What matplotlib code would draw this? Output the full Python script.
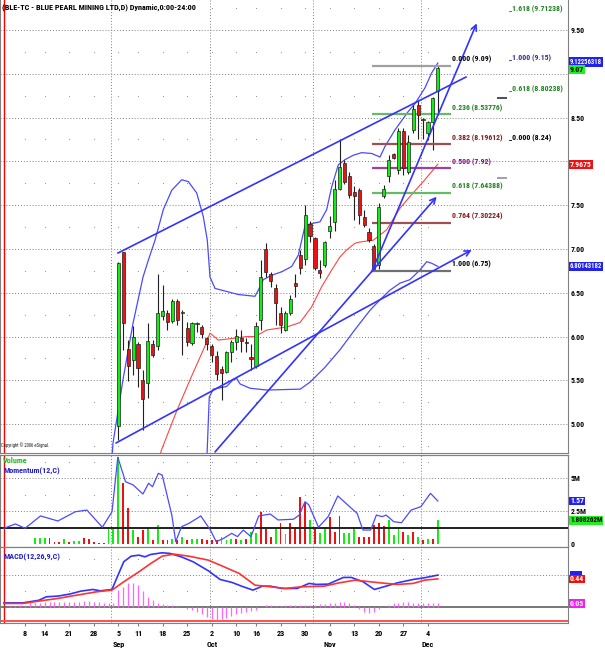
import numpy as np
import pandas as pd
import matplotlib
matplotlib.use('Agg')
import matplotlib.pyplot as plt
import matplotlib.transforms as mtransforms
from matplotlib import font_manager
from matplotlib.patches import Rectangle

# narrowest installed sans family, text size scaled to keep similar widths
installed = {f.name for f in font_manager.fontManager.ttflist}
FAM, FS = 'DejaVu Sans', 4.6
for name, size in [('Liberation Sans Narrow', 6.0), ('Roboto Condensed', 5.6), ('Liberation Sans', 5.2)]:
    if name in installed:
        FAM, FS = name, size
        break
plt.rcParams['font.family'] = [FAM, 'DejaVu Sans']
plt.rcParams['font.size'] = FS

# trading days (TSX), bar index 0 = 2006-08-01
holidays = pd.to_datetime(['2006-08-07', '2006-09-04', '2006-10-09'])
days = pd.bdate_range('2006-08-01', '2006-12-06')
days = days[~days.isin(holidays)]

# daily candles from 2006-09-05 (bar 23) on; earlier prices are below the scale
first_bar = 23
opens = [4.98, 6.96, 5.86, 5.73, 5.92, 5.50, 5.47, 5.92, 5.89, 6.24, 6.27, 6.18, 6.41, 6.27, 6.10, 5.93,
         6.14, 6.11, 5.98, 5.89, 5.78, 5.63, 5.60, 5.82, 5.94, 5.98, 5.93, 5.77, 5.66, 6.19, 7.00, 6.71,
         6.56, 6.27, 6.08, 6.27, 6.61, 6.93, 6.89, 7.28, 7.12, 6.76, 6.82, 7.20, 7.31, 7.69, 7.98, 7.83,
         7.65, 7.67, 7.36, 7.19, 7.03, 6.82, 7.60, 7.83, 8.08, 7.90, 8.35, 7.88, 8.36, 8.64, 8.47, 8.32,
         8.45, 8.80]
highs = [6.85, 6.97, 5.96, 6.12, 5.94, 5.62, 6.15, 5.96, 6.72, 6.59, 6.30, 6.43, 6.43, 6.30, 6.17, 6.17,
         6.17, 6.13, 6.00, 5.92, 5.83, 5.66, 5.84, 5.96, 6.09, 6.07, 5.98, 5.92, 6.17, 6.87, 7.07, 6.74,
         6.60, 6.34, 6.29, 6.47, 6.72, 6.99, 7.50, 7.32, 7.14, 6.88, 7.09, 7.38, 7.79, 8.26, 8.02, 7.88,
         7.72, 7.70, 7.44, 7.24, 7.06, 7.52, 7.73, 8.07, 8.10, 8.38, 8.38, 8.30, 8.64, 8.70, 8.50, 8.46,
         8.74, 9.09]
lows = [4.82, 5.85, 5.49, 5.56, 5.43, 4.93, 5.30, 5.77, 5.85, 6.19, 6.08, 6.16, 6.13, 5.79, 5.89, 5.90,
        6.05, 5.98, 5.85, 5.71, 5.50, 5.28, 5.58, 5.71, 5.85, 5.82, 5.82, 5.62, 5.64, 6.08, 6.68, 6.57,
        6.13, 6.04, 6.06, 6.25, 6.45, 6.72, 6.82, 7.08, 6.76, 6.67, 6.80, 7.13, 7.20, 7.67, 7.74, 7.58,
        7.33, 7.29, 7.25, 7.08, 6.75, 6.77, 7.58, 7.77, 8.03, 7.86, 7.85, 7.86, 8.32, 8.26, 8.26, 8.24,
        8.13, 8.53]
closes = [6.84, 6.16, 5.66, 5.99, 5.64, 5.29, 5.95, 5.79, 6.27, 6.29, 6.17, 6.41, 6.19, 6.28, 5.94, 6.16,
          6.16, 6.03, 5.91, 5.79, 5.57, 5.58, 5.82, 5.94, 6.01, 5.955, 5.925, 5.74, 6.12, 6.68, 6.74, 6.63,
          6.38, 6.13, 6.27, 6.43, 6.58, 6.78, 7.39, 7.15, 6.78, 6.73, 7.08, 7.26, 7.69, 7.94, 7.77, 7.62,
          7.61, 7.39, 7.27, 7.10, 6.77, 7.48, 7.68, 8.02, 8.04, 8.35, 7.92, 8.22, 8.60, 8.53, 8.48, 8.45,
          8.72, 9.07]

# Bollinger(20) bands and middle average as (bar, price)
bb_up_x = [21.5, 21.9, 23.95, 25.98, 28.02, 29.09, 30.46, 32.15, 33.86, 35.89, 37.23, 38.94, 40.28, 41.1,
           41.65, 42.67, 44.03, 47.41, 50.8, 51.48, 52.49, 54.2, 56.24, 58.27, 59.62, 61.0, 62.34, 64.03,
           65.39, 66.41, 67.75, 69.11, 70.8, 72.51, 74.55, 76.24, 77.25, 79.29, 81.99, 83.36, 85.39, 86.75, 88]
bb_up_y = [4.45, 4.78, 5.51, 6.15, 6.68, 6.87, 7.10, 7.45, 7.67, 7.79, 7.77, 7.64, 7.37, 7.10,
           6.68, 6.55, 6.53, 6.48, 6.46, 6.53, 6.65, 6.70, 6.74, 6.80, 6.93, 7.27, 7.29, 7.31,
           7.45, 7.71, 7.96, 8.02, 8.07, 8.10, 8.09, 8.05, 8.17, 8.36, 8.57, 8.66, 8.84, 9.01, 9.1226]
bb_mid_x = [30.5, 31.74, 34.79, 37.84, 40.57, 41.65, 43.34, 46.39, 49.11, 50.8, 53.18, 57.25, 59.96, 62.34,
            64.37, 66.41, 68.1, 69.46, 71.15, 72.17, 74.87, 77.6, 80.3, 82.34, 85.05, 88]
bb_mid_y = [4.45, 4.70, 5.14, 5.54, 5.885, 6.04, 5.96, 5.98, 6.0, 6.0, 6.075, 6.11, 6.16, 6.34,
            6.57, 6.76, 6.91, 6.99, 7.065, 7.08, 7.10, 7.22, 7.465, 7.60, 7.77, 7.9675]
bb_lo_x = [40.8, 41.5, 42.32, 45.0, 46.4, 47.1, 47.75, 49.8, 53.2, 60.0, 62.0, 65.05, 68.1, 71.15,
           74.2, 76.24, 78.27, 80.3, 82.34, 84.37, 85.74, 86.75, 88]
bb_lo_y = [4.30, 5.31, 5.40, 5.43, 5.51, 5.52, 5.46, 5.41, 5.39, 5.40, 5.48, 5.65, 5.85, 6.08,
           6.30, 6.42, 6.53, 6.61, 6.65, 6.76, 6.855, 6.837, 6.8014]

# trend lines (bar, price) -> (bar, price)
channel_top = [(22.93, 6.954), (93.73, 8.963)]
arrow_lines = [[(22.52, 4.785), (94.89, 6.989)],
               [(42.67, 4.683), (87.77, 7.597)],
               [(74.55, 6.741), (95.91, 9.576)]]

# Fibonacci retracement 6.75 -> 9.09
fib_ratio = ['0.000', '0.236', '0.382', '0.500', '0.618', '0.764', '1.000']
fib_price = [9.09, 8.53776, 8.19612, 7.92, 7.64388, 7.30224, 6.75]
fib_line_col = ['#a0a0a0', '#66bb66', '#a05050', '#a040a0', '#66bb66', '#a05050', '#707070']
fib_text_col = ['#000000', '#208020', '#801818', '#801080', '#208020', '#801818', '#000000']
# Fibonacci extension labels
ext_ratio = ['1.618', '1.000', '0.618', '0.000']
ext_price = [9.71238, 9.15, 8.80238, 8.24]
ext_col = ['#208020', '#303090', '#208020', '#000000']

# volume (millions) per bar from bar 0
volume = [0.0, 0.02, 0.02, 0.0, 0.0, 0.0, 0.50, 0.50, 0.50, 0.45, 0.20, 0.20, 0.40, 0.20, 0.28, 0.28,
          0.45, 0.40, 0.20, 0.12, 0.07, 1.21, 1.21, 6.63, 4.62, 2.77, 1.08, 0.58, 1.08, 1.33, 0.33, 1.46,
          0.33, 0.33, 0.38, 0.33, 0.53, 0.33, 0.38, 0.38, 0.38, 0.33, 0.33, 0.33, 0.58, 0.33, 0.38, 0.38,
          0.33, 0.38, 0.96, 0.83, 2.47, 1.14, 0.58, 1.14, 1.59, 0.76, 1.64, 1.29, 3.61, 3.10, 1.84, 1.14,
          0.83, 1.21, 2.04, 0.96, 2.14, 0.83, 0.83, 1.14, 0.53, 0.58, 0.58, 1.46, 1.59, 1.39, 1.84, 0.71,
          1.21, 0.96, 0.71, 0.96, 0.53, 0.33, 0.38, 0.38, 1.808]
vol_up = "rrrrrrgggrrrgrggrrrrrggg" + "rrgrrgrgrrgrgrggrrrrgggrgrggrrrgrgrrrrgrggrrrgggrrrrrrgggrgrgrgrggg"

# Momentum(12,C) read as (bar, value)
mom_x = [-0.28, 2.05, 4.03, 7.16, 10.7, 14.24, 16.6, 19.74, 21.71, 22.89, 24.46, 26.02, 28.0, 29.16, 29.95,
         31.13, 31.92, 33.88, 34.67, 35.85, 37.42, 39.78, 41.73, 42.91, 44.48, 46.06, 47.24, 48.4, 49.99,
         51.56, 53.92, 55.48, 58.62, 59.8, 60.98, 61.77, 63.72, 65.7, 67.65, 70.42, 71.58, 72.76, 74.34,
         75.5, 76.68, 77.48, 79.04, 80.61, 82.58, 84.54, 86.51, 88]
mom_y = [0.0, 0.25, 0.0, 0.71, 0.42, 0.95, 1.05, 0.06, 0.95, 4.08, 2.68, 2.49, 1.97, 2.59, 2.39,
         3.16, 3.06, 0.76, -0.77, 0.09, 0.29, 0.71, -0.1, -0.77, -0.57, -0.29, -0.48, -0.1, -0.48,
         0.71, 0.82, 0.48, 0.52, 0.76, 1.53, 1.34, 0.06, 0.67, 1.86, 1.15, 0.86, -0.1, -0.1,
         0.76, 0.67, 0.76, 0.38, 0.32, 1.05, 1.24, 2.01, 1.57]

# MACD(12,26,9,C)
macd_x = [-0.3, 3.6, 6.8, 8.35, 10.7, 13.06, 15.4, 17.8, 19.35, 21.7, 22.5, 24.1, 25.6, 27.2, 28.4, 29.6,
          31.9, 33.5, 35.8, 38.2, 41.3, 43.7, 46.1, 48.4, 50.4, 52.3, 53.9, 56.3, 59.4, 61.8, 63.3, 65.7,
          68.8, 70.4, 72.8, 75.1, 77.5, 79.8, 83.0, 85.3, 88]
macd_y = [0.06, 0.06, 0.10, 0.156, 0.167, 0.198, 0.246, 0.272, 0.251, 0.272, 0.42, 0.712, 0.80, 0.817, 0.79,
          0.828, 0.854, 0.844, 0.79, 0.712, 0.569, 0.431, 0.384, 0.315, 0.262, 0.325, 0.325, 0.288, 0.288,
          0.368, 0.352, 0.357, 0.463, 0.463, 0.394, 0.272, 0.325, 0.378, 0.431, 0.458, 0.50]
sig_x = [-0.3, 3.6, 6.8, 10.7, 14.6, 18.6, 21.7, 24.1, 27.2, 29.6, 31.9, 34.3, 37.4, 41.3, 44.5, 47.6,
         50.8, 53.9, 57.1, 60.2, 64.9, 68.0, 71.2, 74.3, 77.5, 79.8, 83.0, 85.3, 88]
sig_y = [0.05, 0.05, 0.087, 0.13, 0.183, 0.235, 0.262, 0.394, 0.553, 0.685, 0.80, 0.833, 0.80, 0.738,
         0.632, 0.526, 0.341, 0.315, 0.288, 0.315, 0.325, 0.378, 0.42, 0.394, 0.368, 0.352, 0.368, 0.42,
         0.44]
hist = [0.0, 0.01, 0.01, 0.02, 0.03, 0.05, 0.05, 0.06, 0.07, 0.08, 0.08, 0.08, 0.07, 0.07, 0.08, 0.08,
        0.09, 0.09, 0.08, 0.07, 0.06, 0.05, 0.05, 0.26, 0.31, 0.37, 0.37, 0.34, 0.24, 0.16, 0.10, 0.06,
        0.04, 0.03, 0.02, 0.01, 0.0, -0.03, -0.06, -0.09, -0.12, -0.16, -0.19, -0.21, -0.20, -0.18, -0.15,
        -0.12, -0.10, -0.08, -0.07, -0.05, 0.0, 0.02, 0.02, 0.01, 0.01, 0.02, 0.02, 0.02, 0.03, 0.03, 0.03,
        0.03, 0.04, 0.04, 0.05, 0.06, 0.08, 0.07, 0.05, 0.02, -0.03, -0.08, -0.10, -0.08, -0.04, 0.0, 0.03,
        0.05, 0.06, 0.07, 0.07, 0.06, 0.06, 0.05, 0.05, 0.05, 0.05]

GREEN = '#11ee11'
RED = '#ee1111'
BLUE = '#3333ff'
GRID = '#808080'
dots = (0, (1, 2))

W, H = 605, 650
fig = plt.figure(figsize=(W / 100, H / 100), dpi=100)
ax_p = fig.add_axes([0, 1 - 453 / H, 568 / W, 453 / H])
ax_v = fig.add_axes([0, 1 - 547 / H, 568 / W, 92 / H])
ax_m = fig.add_axes([0, 1 - 623 / H, 568 / W, 76 / H])
ax_mom = ax_v.twinx()

xlim = (-1.08, 114.49)
for ax in (ax_p, ax_v, ax_m, ax_mom):
    ax.set_xlim(*xlim)
    ax.tick_params(length=0, pad=2, labelsize=FS)
    for s in ax.spines.values():
        s.set_color(GRID)
        s.set_linewidth(0.8)
ax_p.set_ylim(4.671, 9.8425)
ax_v.set_ylim(-0.204, 6.76)
ax_mom.set_ylim(-1.075, 4.213)
ax_m.set_ylim(-0.260, 0.946)
ax_p.spines['top'].set_visible(False)

# weekly ticks and month boundaries
week = pd.Series(days.to_period('W'))
week_start = [i for i in range(1, len(days)) if week[i] != week[i - 1]]
month_start = [i for i in range(1, len(days)) if days[i].month != days[i - 1].month]


def grid(ax, major, minor):
    for lv in major:
        ax.axhline(lv, color=GRID, ls=dots, lw=0.7, zorder=0)
    for m in month_start:
        ax.axvline(m - 0.4, color=GRID, ls=dots, lw=0.7, zorder=0)
    xx, yy = np.meshgrid(week_start, minor)
    ax.scatter(xx.ravel(), yy.ravel(), s=0.4, color=GRID, lw=0, zorder=0)
    ax.axvline(-0.2, color='red', lw=1, zorder=1)


grid(ax_p, np.arange(5.0, 9.6, 0.5), np.arange(4.75, 9.8, 0.5))
grid(ax_v, [2.5, 5.0], [1.25, 3.75, 6.25])
grid(ax_m, [0.5], [0.25, 0.75])

# price panel; 8.00 and 9.00 sit under the last-value tags
price_ticks = [5.0, 5.5, 6.0, 6.5, 7.0, 7.5, 8.5, 9.5]
ax_p.yaxis.tick_right()
ax_p.set_yticks(price_ticks)
ax_p.set_yticklabels([f'{v:.2f}' for v in price_ticks], fontweight='bold')
ax_p.set_xticks([])

for k in range(len(closes)):
    i = first_bar + k
    o, h, l, c = opens[k], highs[k], lows[k], closes[k]
    ax_p.vlines(i, l, h, color='#202020', lw=0.8, zorder=3)
    col = GREEN if c > o else (RED if c < o else '#202020')
    ax_p.add_patch(Rectangle((i - 0.32, min(o, c)), 0.64, max(abs(c - o), 0.012),
                             fc=col, ec='#202020', lw=0.5, zorder=4))

ax_p.plot(bb_up_x, bb_up_y, color='#4a4aff', lw=0.9, zorder=2)
ax_p.plot(bb_lo_x, bb_lo_y, color='#4a4aff', lw=0.9, zorder=2)
ax_p.plot(bb_mid_x, bb_mid_y, color='#ff4444', lw=0.8, zorder=2)

ax_p.plot(*zip(*channel_top), color=BLUE, lw=1.2, zorder=5)
for (x0, y0), (x1, y1) in arrow_lines:
    ax_p.annotate('', xy=(x1, y1), xytext=(x0, y0),
                  arrowprops=dict(arrowstyle='->', color=BLUE, lw=1.2, shrinkA=0, shrinkB=0,
                                  mutation_scale=10), zorder=5)

fib_x0, fib_x1 = 74.67, 90.6
for r, p, lc, tc in zip(fib_ratio, fib_price, fib_line_col, fib_text_col):
    ax_p.hlines(p, fib_x0, fib_x1, color=lc, lw=1.6, zorder=3)
    ax_p.text(fib_x1 + 0.2, p + 0.03, f'{r} ({p:g})', color=tc, fontsize=FS,
              fontweight='bold', va='bottom', ha='left', zorder=6)
for r, p, tc in zip(ext_ratio, ext_price, ext_col):
    ax_p.text(102.5, p, f'_{r} ({p:g})', color=tc, fontsize=FS, fontweight='bold',
              va='baseline', ha='left', zorder=6)
ax_p.hlines([8.72, 7.81], 100.0, 102.0, colors=['#303030', '#909090'], lw=1.2)

ax_p.text(-0.9, 4.76, 'Copyright © 2006 eSignal.', fontsize=FS * 0.6, color='#202020', va='center')
fig.text(0.003, 1 - 7 / H, '(BLE-TC - BLUE PEARL MINING LTD,D) Dynamic,0:00-24:00',
         fontsize=FS * 1.05, fontweight='bold', va='center', ha='left')


def tag(ax, y, text, fc, tc, size=1.0):
    tr = mtransforms.blended_transform_factory(ax.transAxes, ax.transData)
    ax.text(1.0 + 2 / 568, y, text, transform=tr, fontsize=FS * size, color=tc, va='center', ha='left',
            fontweight='bold', bbox=dict(boxstyle='square,pad=0.1', fc=fc, ec='none'),
            clip_on=False, zorder=10)


tag(ax_p, 9.135, '9.12256318', '#2222ee', 'white', 0.86)
tag(ax_p, 9.05, '9.07', '#22ee22', 'black')
tag(ax_p, 7.9675, '7.9675', '#ee1111', 'white')
tag(ax_p, 6.8014, '6.80143182', '#2222ee', 'white', 0.86)

# volume / momentum panel
ax_v.yaxis.tick_right()
ax_v.set_yticks([0, 2.5, 5.0])
ax_v.set_yticklabels(['0', '2.5M', '5M'], fontweight='bold')
ax_v.set_xticks([])
vol_idx = np.arange(len(volume))
vol_col = [GREEN if c == 'g' else RED for c in vol_up[:len(volume)]]
ax_v.bar(vol_idx, volume, width=0.38, color=vol_col, zorder=2)
ax_mom.set_yticks([])
ax_mom.axhline(0, color='#202020', lw=1.4, zorder=3)
ax_mom.plot(mom_x, mom_y, color='#4a4aff', lw=0.9, zorder=4)
ax_v.text(0.006, 0.94, 'Volume', transform=ax_v.transAxes, color='#22bb22', fontsize=FS * 1.05,
          fontweight='bold', va='center')
ax_v.text(0.006, 0.82, 'Momentum(12,C)', transform=ax_v.transAxes, color='#2222cc',
          fontsize=FS * 1.05, fontweight='bold', va='center')
tag(ax_mom, 1.57, '1.57', '#2222ee', 'white')
tag(ax_v, 1.808, '1.808262M', '#22ee22', 'black', 0.9)

# MACD panel
ax_m.set_yticks([])
ax_m.axhline(0, color='#606060', lw=1.2, zorder=1)
ax_m.axhline(-0.23, color='#ff5050', lw=1.4, zorder=1)
ax_m.vlines(np.arange(len(hist)), 0, hist, color='#ff66ff', lw=0.9, zorder=2)
ax_m.plot(macd_x, macd_y, color='#3333ff', lw=1.2, zorder=3)
ax_m.plot(sig_x, sig_y, color='#ff3333', lw=1.2, zorder=3)
ax_m.text(0.006, 0.87, 'MACD(12,26,9,C)', transform=ax_m.transAxes, color='#2222cc',
          fontsize=FS * 1.05, fontweight='bold', va='center')
# MACD last-value tag peeks out above the signal tag
ax_m.add_patch(Rectangle((1.0 + 2 / 568, 0.47), 12 / 568, 0.1, fc='#2222ee', ec='none',
                         transform=mtransforms.blended_transform_factory(ax_m.transAxes, ax_m.transData),
                         clip_on=False, zorder=9))
tag(ax_m, 0.44, '0.44', '#ee1111', 'white')
tag(ax_m, 0.05, '0.05', '#ee22ee', 'white')

ax_m.set_xticks(week_start)
ax_m.set_xticklabels([str(days[i].day) for i in week_start], fontsize=FS * 1.05, fontweight='bold')
ax_m.tick_params(axis='x', length=2, pad=3, color=GRID)
tr = mtransforms.blended_transform_factory(ax_m.transData, ax_m.transAxes)
for i in week_start:
    if days[i].month != days[i - 1].month or days[i].day <= 7 and i != 4:
        ax_m.text(i, -0.28, days[i].strftime('%b'), transform=tr, fontsize=FS * 1.05,
                  fontweight='bold', ha='center', va='center')

fig.savefig('out.png', dpi=100)
